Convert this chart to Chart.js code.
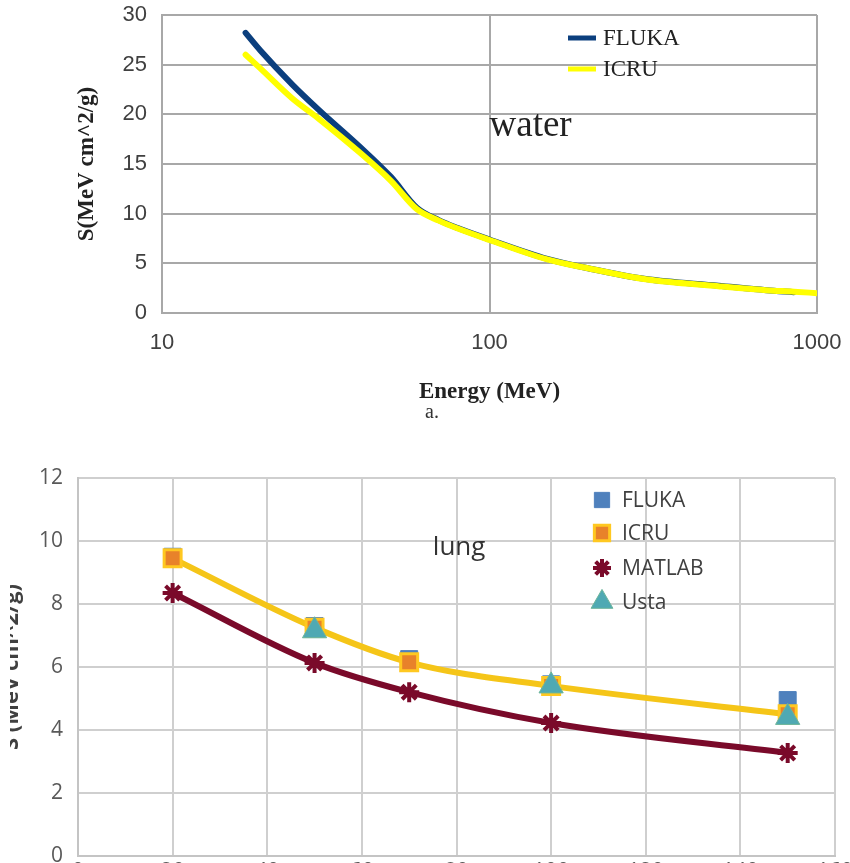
<!DOCTYPE html>
<html>
<head>
<meta charset="utf-8">
<script src="https://cdn.jsdelivr.net/npm/chart.js@4.4.1/dist/chart.umd.min.js"></script>
<style>
    body { margin: 0; background: #fff; width: 850px; height: 863px; overflow: hidden; position: relative; }
    #water_box { position: absolute; left: 0; top: 0; width: 850px; height: 440px; }
    #lung_clip { position: absolute; left: 10px; top: 440px; width: 840px; height: 423px; overflow: hidden; }
    #lung_box { position: absolute; left: -18px; top: 0; width: 858px; height: 500px; }
    #fig_a { position: absolute; left: 425px; top: 400px; font: 20px "Liberation Serif", serif; color: #333; }
</style>
</head>
<body>
<div id="water_box"><canvas id="water_chart"></canvas></div>
<div id="fig_a">a.</div>
<div id="lung_clip"><div id="lung_box"><canvas id="lung_chart"></canvas></div></div>
<script>
// water (top chart)
var water_energy = [18, 20, 25, 30, 40, 50, 60, 70, 80, 100, 150, 200, 300, 500, 700, 850, 1000];
var water_fluka  = [28.2, 26.4, 23.0, 20.5, 16.8, 13.7, 10.6, 9.35, 8.55, 7.4, 5.45, 4.5, 3.42, 2.75, 2.3, 2.1, null];
var water_icru   = [26.0, 24.6, 21.6, 19.6, 16.2, 13.3, 10.45, 9.3, 8.5, 7.35, 5.4, 4.5, 3.4, 2.7, 2.3, 2.15, 2.0];
var water_xticks = [10, 100, 1000];

// lung (bottom chart)
var lung_energy = [20, 50, 70, 100, 150];
var lung_fluka  = [9.5, 7.3, 6.25, 5.45, 4.95];
var lung_icru   = [9.45, 7.25, 6.15, 5.4, 4.5];
var lung_matlab = [8.35, 6.13, 5.2, 4.22, 3.27];
var lung_usta   = [null, 7.15, null, 5.4, 4.4];

function pts(xs, ys) {
    return xs.map((x, i) => ({x: x, y: ys[i]}));
}

// keep tick labels from pushing the plot area in
function noLabelPad(s) {
    s.paddingTop = 0;
    s.paddingBottom = 0;
    s.paddingLeft = 0;
    s.paddingRight = 0;
}

var serif = '"Liberation Serif", "Times New Roman", serif';
var sans = '"Open Sans", sans-serif';

var waterExtras = {
    id: 'waterExtras',
    afterDraw(chart) {
        const ctx = chart.ctx, a = chart.chartArea;
        const xs = chart.scales.x, ys = chart.scales.y;
        ctx.save();
        ctx.textBaseline = 'middle';
        ctx.textAlign = 'left';
        ctx.font = '37px ' + serif;
        ctx.fillStyle = '#222';
        ctx.fillText('water', xs.getPixelForValue(100), ys.getPixelForValue(18.8));

        const items = [['FLUKA', '#0b3f7e', 23], ['ICRU', '#ffff00', 54]];
        ctx.font = '23px ' + serif;
        items.forEach(it => {
            const y = a.top + it[2];
            ctx.strokeStyle = it[1];
            ctx.lineWidth = 5;
            ctx.beginPath();
            ctx.moveTo(a.left + 406, y);
            ctx.lineTo(a.left + 434, y);
            ctx.stroke();
            ctx.fillStyle = '#222';
            ctx.fillText(it[0], a.left + 441, y + 1);
        });
        ctx.restore();
    }
};

var water_chart = new Chart(document.getElementById('water_chart'), {
    type: 'line',
    data: {
        datasets: [
            {
                label: 'FLUKA',
                data: pts(water_energy, water_fluka),
                borderColor: '#0b3f7e',
                borderWidth: 6,
                borderCapStyle: 'round',
                pointRadius: 0,
                cubicInterpolationMode: 'monotone',
                order: 2
            },
            {
                label: 'ICRU',
                data: pts(water_energy, water_icru),
                borderColor: '#ffff00',
                borderWidth: 6,
                borderCapStyle: 'round',
                pointRadius: 0,
                cubicInterpolationMode: 'monotone',
                order: 1
            }
        ]
    },
    options: {
        responsive: true,
        maintainAspectRatio: false,
        animation: false,
        layout: { padding: { left: 69, right: 33, top: 15, bottom: 30 } },
        scales: {
            x: {
                type: 'logarithmic',
                min: 10,
                max: 1000,
                afterBuildTicks: (axis) => { axis.ticks = water_xticks.map(v => ({value: v})); },
                afterFit: (s) => { s.height = 97; noLabelPad(s); },
                ticks: {
                    callback: (v) => String(v),
                    font: { family: '"Liberation Sans", sans-serif', size: 22 },
                    color: '#404040',
                    padding: 17,
                    maxRotation: 0
                },
                grid: { color: '#a8a8a8', lineWidth: 2, drawTicks: false },
                border: { color: '#a8a8a8', width: 2 },
                title: {
                    display: true,
                    text: 'Energy (MeV)',
                    font: { family: serif, size: 23, weight: 'bold' },
                    color: '#222'
                }
            },
            y: {
                min: 0,
                max: 30,
                afterFit: (s) => { s.width = 93; noLabelPad(s); },
                ticks: {
                    stepSize: 5,
                    font: { family: '"Liberation Sans", sans-serif', size: 22 },
                    color: '#404040',
                    padding: 15
                },
                grid: { color: '#a8a8a8', lineWidth: 2, drawTicks: false },
                border: { color: '#a8a8a8', width: 2 },
                title: {
                    display: true,
                    text: 'S(MeV cm^2/g)',
                    font: { family: serif, size: 23, weight: 'bold' },
                    color: '#222'
                }
            }
        },
        plugins: {
            legend: { display: false },
            tooltip: { enabled: false }
        }
    },
    plugins: [waterExtras]
});

var lung_styles = [
    {label: 'FLUKA', style: 'rect', r: 12, fill: '#4f81bd', stroke: '#4f81bd', bw: 1},
    {label: 'ICRU', style: 'rect', r: 12, fill: '#e8822a', stroke: '#ffc821', bw: 3},
    {label: 'MATLAB', style: 'star', r: 10, fill: '#7a0a2a', stroke: '#7a0a2a', bw: 4},
    {label: 'Usta', style: 'triangle', r: 14, fill: '#4fa9b3', stroke: '#6cb59a', bw: 1}
];

var lungExtras = {
    id: 'lungExtras',
    afterDraw(chart) {
        const ctx = chart.ctx, a = chart.chartArea;
        const xs = chart.scales.x, ys = chart.scales.y;
        ctx.save();
        ctx.textBaseline = 'middle';
        ctx.textAlign = 'left';
        ctx.font = '26px ' + sans;
        ctx.fillStyle = '#333';
        ctx.fillText('lung', xs.getPixelForValue(75), ys.getPixelForValue(9.8));

        const rows = [22, 55, 90, 124];
        ctx.font = '21px ' + sans;
        lung_styles.forEach((s, i) => {
            const y = a.top + rows[i];
            ctx.fillStyle = s.fill;
            ctx.strokeStyle = s.stroke;
            ctx.lineWidth = s.bw;
            Chart.helpers.drawPoint(ctx, {pointStyle: s.style, radius: s.r * 0.9, rotation: 0, borderWidth: s.bw}, a.left + 524, y);
            ctx.fillStyle = '#404040';
            ctx.fillText(s.label, a.left + 544, y + 1);
        });
        ctx.restore();
    }
};

var lung_values = [lung_fluka, lung_icru, lung_matlab, lung_usta];
var lung_chart = new Chart(document.getElementById('lung_chart'), {
    type: 'line',
    data: {
        datasets: lung_styles.map((s, i) => ({
            label: s.label,
            data: pts(lung_energy, lung_values[i]),
            showLine: s.label == 'ICRU' || s.label == 'MATLAB',
            borderColor: s.label == 'ICRU' ? '#f5c518' : s.stroke,
            borderWidth: 6,
            cubicInterpolationMode: 'monotone',
            pointStyle: s.style,
            pointRadius: s.r,
            pointBackgroundColor: s.fill,
            pointBorderColor: s.stroke,
            pointBorderWidth: s.bw,
            order: 4 - i
        }))
    },
    options: {
        responsive: true,
        maintainAspectRatio: false,
        animation: false,
        layout: { padding: { left: 0, right: 15, top: 38, bottom: 0 } },
        scales: {
            x: {
                type: 'linear',
                min: 0,
                max: 160,
                afterFit: (s) => { s.height = 84; noLabelPad(s); },
                ticks: { stepSize: 20, font: { family: sans, size: 21 }, color: '#595959' },
                grid: { color: '#cfcfcf', lineWidth: 2, drawTicks: false },
                border: { color: '#c4c4c4', width: 2 }
            },
            y: {
                min: 0,
                max: 12,
                afterFit: (s) => { s.width = 86; noLabelPad(s); },
                ticks: {
                    stepSize: 2,
                    font: { family: sans, size: 21 },
                    color: '#595959',
                    padding: 15
                },
                grid: { color: '#cfcfcf', lineWidth: 2, drawTicks: false },
                border: { color: '#c4c4c4', width: 2 },
                title: {
                    display: true,
                    text: 'S (MeV cm^2/g)',
                    font: { family: sans, size: 22, weight: 'bold' },
                    color: '#404040',
                    padding: { top: 7, bottom: 4 }
                }
            }
        },
        plugins: {
            legend: { display: false },
            tooltip: { enabled: false }
        }
    },
    plugins: [lungExtras]
});
</script>
</body>
</html>
